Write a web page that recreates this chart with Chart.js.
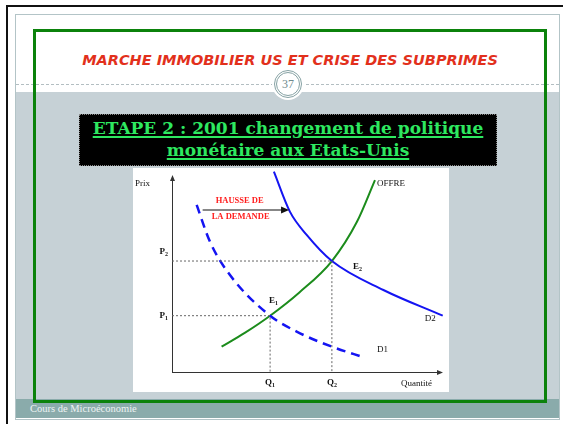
<!DOCTYPE html>
<html lang="fr">
<head>
<meta charset="utf-8">
<title>Marché immobilier US et crise des subprimes</title>
<script src="https://cdn.jsdelivr.net/npm/chart.js@4"></script>
<style>
  body { margin: 0; width: 563px; height: 424px; position: relative; overflow: hidden; background: #fff; }
  .abs { position: absolute; box-sizing: border-box; }
  #cadre-noir { left: 6px; top: 5px; width: 600px; height: 500px; border-top: 2px solid #111; border-left: 2px solid #111; }
  #diapo { left: 15px; top: 14px; width: 545px; height: 406px; border: 1px solid #b3c4c7; background: #fff; }
  #bande { left: 16px; top: 92px; width: 543px; height: 307px; background: #c6d1d6; }
  #pied { left: 16px; top: 399px; width: 543px; height: 19px; background: #8aabab; color: #eef3f3;
          font: 10.5px "Liberation Serif", serif; line-height: 19px; padding-left: 14px; }
  #pointilles { left: 16px; top: 84px; width: 543px; height: 1px; border-top: 1px dashed #b3bec2; }
  #rond { left: 272px; top: 68px; width: 32px; height: 32px; border-radius: 50%; background: #fff; }
  #anneau1 { left: 274px; top: 70px; width: 28px; height: 28px; border-radius: 50%; border: 1px solid #86a2a4; }
  #anneau2 { left: 276px; top: 72px; width: 24px; height: 24px; border-radius: 50%; border: 1px solid #86a2a4;
             font: 12px "Liberation Serif", serif; color: #6f8a8c; text-align: center; line-height: 22px; }
  #titre { left: 0; top: 52px; width: 580px; text-align: center; color: #e2301c;
           font: italic bold 14.5px "DejaVu Sans", sans-serif; }
  #boite { left: 79px; top: 114px; width: 418px; height: 52px; background: #000; border: 1px dotted #888;
           color: #2ee860; text-align: center; font: bold 17px "DejaVu Serif", serif; line-height: 21.5px; padding-top: 3px; }
  #boite span { text-decoration: underline; text-decoration-thickness: 2px; text-underline-offset: 2px; }
  #graphe { left: 133px; top: 168px; width: 316px; height: 224px; background: #fff; }
  #cadre-vert { left: 33px; top: 29px; width: 514px; height: 374px; border: 3px solid #0b820b; }
</style>
</head>
<body>
<div class="abs" id="cadre-noir"></div>
<div class="abs" id="diapo"></div>
<div class="abs" id="bande"></div>
<div class="abs" id="pied">Cours de Microéconomie</div>
<div class="abs" id="pointilles"></div>
<div class="abs" id="rond"></div>
<div class="abs" id="anneau1"></div>
<div class="abs" id="anneau2">37</div>
<div class="abs" id="titre">MARCHE IMMOBILIER US ET CRISE DES SUBPRIMES</div>
<div class="abs" id="boite"><span>ETAPE 2 : 2001 changement de politique</span><br><span>monétaire aux Etats-Unis</span></div>
<div class="abs" id="graphe"><canvas id="chart"></canvas></div>
<div class="abs" id="cadre-vert"></div>

<script>
const OFFRE_X = [1.83, 2.7, 3.62, 4.7, 5.9, 6.82, 7.49];
const OFFRE_Y = [1.24, 1.93, 2.76, 3.9, 5.44, 7.35, 9.41];
const D1_X = [0.91, 1.40, 2.14, 3.62, 4.60, 5.90, 7.12];
const D1_Y = [8.19, 6.39, 4.75, 2.76, 1.98, 1.24, 0.70];
const D2_X = [3.76, 4.35, 4.97, 5.90, 7.80, 9.99];
const D2_Y = [9.82, 7.86, 6.72, 5.44, 4.02, 2.76];

// Équilibres E1 / E2
const PRIX = [2.76, 5.44];
const QUANTITES = [3.62, 5.90];
const PRIX_LABELS = ['P', 'P'];
const QTE_LABELS = ['Q', 'Q'];
const INDICES = ['1', '2'];

// Flèche "hausse de la demande"
const HAUSSE_X = [1.13, 4.32];
const HAUSSE_Y = 7.94;

const AXE_X_MAX = 10;
const AXE_Y_MAX = 9.66;

const BLEU = '#1414f2';
const VERT = '#1c8c1c';
const SERIF = '"Liberation Serif", serif';

function points(xs, ys) {
  return xs.map((x, i) => ({ x, y: ys[i] }));
}

function guide(i) {
  return [{ x: 0, y: PRIX[i] }, { x: QUANTITES[i], y: PRIX[i] }, { x: QUANTITES[i], y: 0 }];
}

function texteIndice(ctx, base, indice, x, y, align) {
  ctx.font = `bold 9px ${SERIF}`;
  const wb = ctx.measureText(base).width;
  ctx.font = `bold 6px ${SERIF}`;
  const wi = ctx.measureText(indice).width;
  let left = x;
  if (align === 'right') left = x - wb - wi;
  if (align === 'center') left = x - (wb + wi) / 2;
  ctx.textAlign = 'left';
  ctx.textBaseline = 'middle';
  ctx.font = `bold 9px ${SERIF}`;
  ctx.fillText(base, left, y);
  ctx.font = `bold 6px ${SERIF}`;
  ctx.fillText(indice, left + wb, y + 2.5);
}

const decor = {
  id: 'decor',
  beforeDatasetsDraw(chart) {
    const { ctx } = chart;
    const sx = chart.scales.x;
    const sy = chart.scales.y;
    const x0 = sx.getPixelForValue(0);
    const y0 = sy.getPixelForValue(0);
    const xEnd = sx.getPixelForValue(AXE_X_MAX);
    const yTop = sy.getPixelForValue(AXE_Y_MAX);
    ctx.save();
    ctx.strokeStyle = '#333';
    ctx.fillStyle = '#333';
    ctx.lineWidth = 1;
    ctx.beginPath();
    ctx.moveTo(x0 + 0.5, y0);
    ctx.lineTo(x0 + 0.5, yTop + 4);
    ctx.moveTo(x0, y0 + 0.5);
    ctx.lineTo(xEnd - 4, y0 + 0.5);
    ctx.stroke();
    ctx.beginPath();
    ctx.moveTo(x0 + 0.5, yTop);
    ctx.lineTo(x0 - 2, yTop + 6);
    ctx.lineTo(x0 + 3, yTop + 6);
    ctx.closePath();
    ctx.moveTo(xEnd, y0 + 0.5);
    ctx.lineTo(xEnd - 6, y0 - 2);
    ctx.lineTo(xEnd - 6, y0 + 3);
    ctx.closePath();
    ctx.fill();
    ctx.restore();
  },
  afterDatasetsDraw(chart) {
    const { ctx } = chart;
    const sx = chart.scales.x;
    const sy = chart.scales.y;
    const x0 = sx.getPixelForValue(0);
    const y0 = sy.getPixelForValue(0);
    ctx.save();
    ctx.fillStyle = '#111';

    // axes
    ctx.font = `9px ${SERIF}`;
    ctx.textBaseline = 'middle';
    ctx.textAlign = 'left';
    ctx.fillText('Prix', x0 - 37, sy.getPixelForValue(AXE_Y_MAX) + 9);
    ctx.textAlign = 'right';
    ctx.fillText('Quantité', sx.getPixelForValue(AXE_X_MAX) - 11, y0 + 12);

    // prix et quantités d'équilibre
    const decalP = [0, -9];
    PRIX.forEach((p, i) => {
      texteIndice(ctx, PRIX_LABELS[i], INDICES[i], x0 - 4, sy.getPixelForValue(p) + decalP[i], 'right');
    });
    QUANTITES.forEach((q, i) => {
      texteIndice(ctx, QTE_LABELS[i], INDICES[i], sx.getPixelForValue(q), y0 + 11, 'center');
    });

    // points d'équilibre
    const e1x = sx.getPixelForValue(QUANTITES[0]);
    const e1y = sy.getPixelForValue(PRIX[0]);
    const e2x = sx.getPixelForValue(QUANTITES[1]);
    const e2y = sy.getPixelForValue(PRIX[1]);
    texteIndice(ctx, 'E', '1', e1x - 1, e1y - 15, 'left');
    texteIndice(ctx, 'E', '2', e2x + 21, e2y + 6, 'left');

    // noms des courbes
    ctx.font = `9px ${SERIF}`;
    ctx.textAlign = 'left';
    const fin = (xs, ys) => [sx.getPixelForValue(xs[xs.length - 1]), sy.getPixelForValue(ys[ys.length - 1])];
    let [fx, fy] = fin(OFFRE_X, OFFRE_Y);
    ctx.fillText('OFFRE', fx + 2, fy + 4);
    [fx, fy] = fin(D2_X, D2_Y);
    ctx.fillText('D2', fx - 18, fy + 3);
    [fx, fy] = fin(D1_X, D1_Y);
    ctx.fillText('D1', fx + 12, fy - 8);

    // flèche de la hausse de la demande
    const ax1 = sx.getPixelForValue(HAUSSE_X[0]);
    const ax2 = sx.getPixelForValue(HAUSSE_X[1]);
    const ay = sy.getPixelForValue(HAUSSE_Y);
    ctx.fillStyle = '#111';
    ctx.beginPath();
    ctx.moveTo(ax2, ay);
    ctx.lineTo(ax2 - 8, ay - 3.5);
    ctx.lineTo(ax2 - 8, ay + 3.5);
    ctx.closePath();
    ctx.fill();
    ctx.fillStyle = '#ff1c1c';
    ctx.font = `bold 8.5px ${SERIF}`;
    ctx.textAlign = 'center';
    ctx.fillText('HAUSSE DE', ax1 + 37, ay - 9.5);
    ctx.fillText('LA DEMANDE', ax1 + 38, ay + 7);
    ctx.restore();
  },
};

const ligne = { pointRadius: 0, fill: false, clip: false };

new Chart(document.getElementById('chart'), {
  type: 'line',
  data: {
    datasets: [
      { ...ligne, data: guide(0), borderColor: '#666', borderWidth: 1, borderDash: [2, 2], tension: 0 },
      { ...ligne, data: guide(1), borderColor: '#666', borderWidth: 1, borderDash: [2, 2], tension: 0 },
      { ...ligne, data: points(D1_X, D1_Y), borderColor: BLEU, borderWidth: 2.5, borderDash: [9, 6], cubicInterpolationMode: 'monotone' },
      { ...ligne, data: points(D2_X, D2_Y), borderColor: BLEU, borderWidth: 2, cubicInterpolationMode: 'monotone' },
      { ...ligne, data: points(OFFRE_X, OFFRE_Y), borderColor: VERT, borderWidth: 2, cubicInterpolationMode: 'monotone' },
      { ...ligne, data: [{ x: HAUSSE_X[0], y: HAUSSE_Y }, { x: HAUSSE_X[1] - 0.2, y: HAUSSE_Y }], borderColor: '#111', borderWidth: 1.2, tension: 0 },
    ],
  },
  options: {
    responsive: true,
    maintainAspectRatio: false,
    animation: false,
    events: [],
    layout: { padding: { left: 39, right: 6, top: 0, bottom: 20 } },
    scales: {
      x: { type: 'linear', min: 0, max: 10, display: false },
      y: { type: 'linear', min: 0, max: 10, display: false },
    },
    plugins: { legend: { display: false }, tooltip: { enabled: false } },
  },
  plugins: [decor],
});
</script>
</body>
</html>
